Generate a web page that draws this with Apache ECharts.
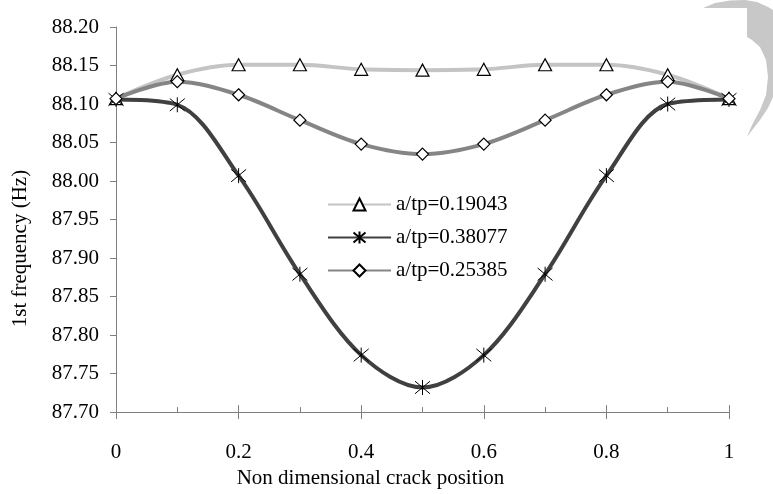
<!DOCTYPE html>
<html>
<head>
<meta charset="utf-8">
<script src="https://cdn.jsdelivr.net/npm/echarts@6/dist/echarts.min.js"></script>
<style>
  html, body { margin: 0; padding: 0; background: #fff; }
  #chart { width: 773px; height: 494px; }
</style>
</head>
<body>
<div id="chart"></div>
<script>
// crack positions (x axis)
const positions = [0, 0.1, 0.2, 0.3, 0.4, 0.5, 0.6, 0.7, 0.8, 0.9, 1];

// 1st natural frequency (Hz) per crack depth ratio
const freq19043 = [88.107, 88.138, 88.151, 88.151, 88.145, 88.144, 88.145, 88.151, 88.151, 88.138, 88.107];
const freq38077 = [88.106, 88.099, 88.007, 87.879, 87.774, 87.732, 87.774, 87.879, 88.007, 88.100, 88.106];
const freq25385 = [88.107, 88.129, 88.112, 88.079, 88.048, 88.035, 88.048, 88.079, 88.112, 88.129, 88.107];

const seriesNames = ['a/tp=0.19043', 'a/tp=0.38077', 'a/tp=0.25385'];

const FONT = 'Liberation Serif';
const AXIS_GRAY = '#808080';
const SMOOTH = 0.33;

// asterisk marker: X plus a vertical stroke
const ASTERISK = 'path://M0,0L10,10M10,0L0,10M5,-1L5,11';

function pairs(ys) {
  return positions.map((x, i) => [x, ys[i]]);
}

const chart = echarts.init(document.getElementById('chart'));

chart.setOption({
  backgroundColor: '#fff',
  animation: false,
  textStyle: { fontFamily: FONT, color: '#000' },
  grid: { left: 116, right: 44, top: 27, bottom: 76 },
  legend: {
    orient: 'vertical',
    left: 327,
    top: 194,
    padding: 0,
    itemWidth: 63,
    itemHeight: 15,
    itemGap: 12,
    textStyle: { fontFamily: FONT, fontSize: 21, color: '#000' },
    data: seriesNames
  },
  xAxis: [{
    type: 'value',
    min: 0, max: 1, interval: 0.2,
    name: 'Non dimensional crack position',
    nameLocation: 'middle',
    nameGap: 50,
    nameTextStyle: { fontFamily: FONT, fontSize: 21, color: '#000', padding: [0, 104, 0, 0] },
    axisLine: { lineStyle: { color: AXIS_GRAY, width: 1 } },
    axisTick: { inside: true, length: 7, lineStyle: { color: AXIS_GRAY } },
    minorTick: { show: true, splitNumber: 2, length: 5, lineStyle: { color: AXIS_GRAY } },
    axisLabel: { fontFamily: FONT, fontSize: 21, color: '#000', margin: 30 },
    splitLine: { show: false }
  }, {
    // outer half of the crossing major ticks
    type: 'value',
    position: 'bottom',
    min: 0, max: 1, interval: 0.2,
    axisLine: { show: false },
    axisTick: { inside: false, length: 7, lineStyle: { color: AXIS_GRAY } },
    axisLabel: { show: false },
    splitLine: { show: false }
  }],
  yAxis: {
    type: 'value',
    min: 87.7, max: 88.2, interval: 0.05,
    name: '1st frequency (Hz)',
    nameLocation: 'middle',
    nameRotate: 90,
    nameGap: 85,
    nameTextStyle: { fontFamily: FONT, fontSize: 21, color: '#000', padding: [0, 58, 0, 0] },
    axisLine: { show: true, lineStyle: { color: AXIS_GRAY, width: 1 } },
    axisTick: { show: true, inside: false, length: 6, lineStyle: { color: AXIS_GRAY } },
    axisLabel: {
      fontFamily: FONT, fontSize: 21, color: '#000', margin: 17,
      formatter: v => v.toFixed(2)
    },
    splitLine: { show: false }
  },
  series: [{
    name: seriesNames[0],
    type: 'line',
    smooth: SMOOTH,
    data: pairs(freq19043),
    symbol: 'triangle',
    symbolSize: [13, 12],
    lineStyle: { color: '#c4c4c4', width: 4 },
    itemStyle: { color: '#fff', borderColor: '#000', borderWidth: 1.2 }
  }, {
    name: seriesNames[1],
    type: 'line',
    smooth: SMOOTH,
    data: pairs(freq38077),
    symbol: ASTERISK,
    symbolSize: 15,
    lineStyle: { color: '#404040', width: 4 },
    itemStyle: { color: '#000', borderColor: '#000', borderWidth: 1 }
  }, {
    name: seriesNames[2],
    type: 'line',
    smooth: SMOOTH,
    data: pairs(freq25385),
    symbol: 'diamond',
    symbolSize: 12,
    lineStyle: { color: '#858585', width: 4 },
    itemStyle: { color: '#fff', borderColor: '#000', borderWidth: 1.2 }
  }],
  graphic: [{
    // grey crescent in the top right corner of the scan
    type: 'polygon',
    z: -1,
    shape: {
      points: [
        [703, 8], [715, 3], [730, 0.5], [745, 0], [757, 2], [768, 7], [773, 10],
        [773, 97], [768, 108], [760, 120], [753, 129], [747, 137],
        [752, 125], [760, 110], [766, 95], [768, 77], [766, 60], [760, 47],
        [752, 40], [747, 37], [747, 8]
      ]
    },
    style: { fill: '#c8c8c8' }
  }]
});

window.addEventListener('resize', () => chart.resize());
</script>
</body>
</html>
